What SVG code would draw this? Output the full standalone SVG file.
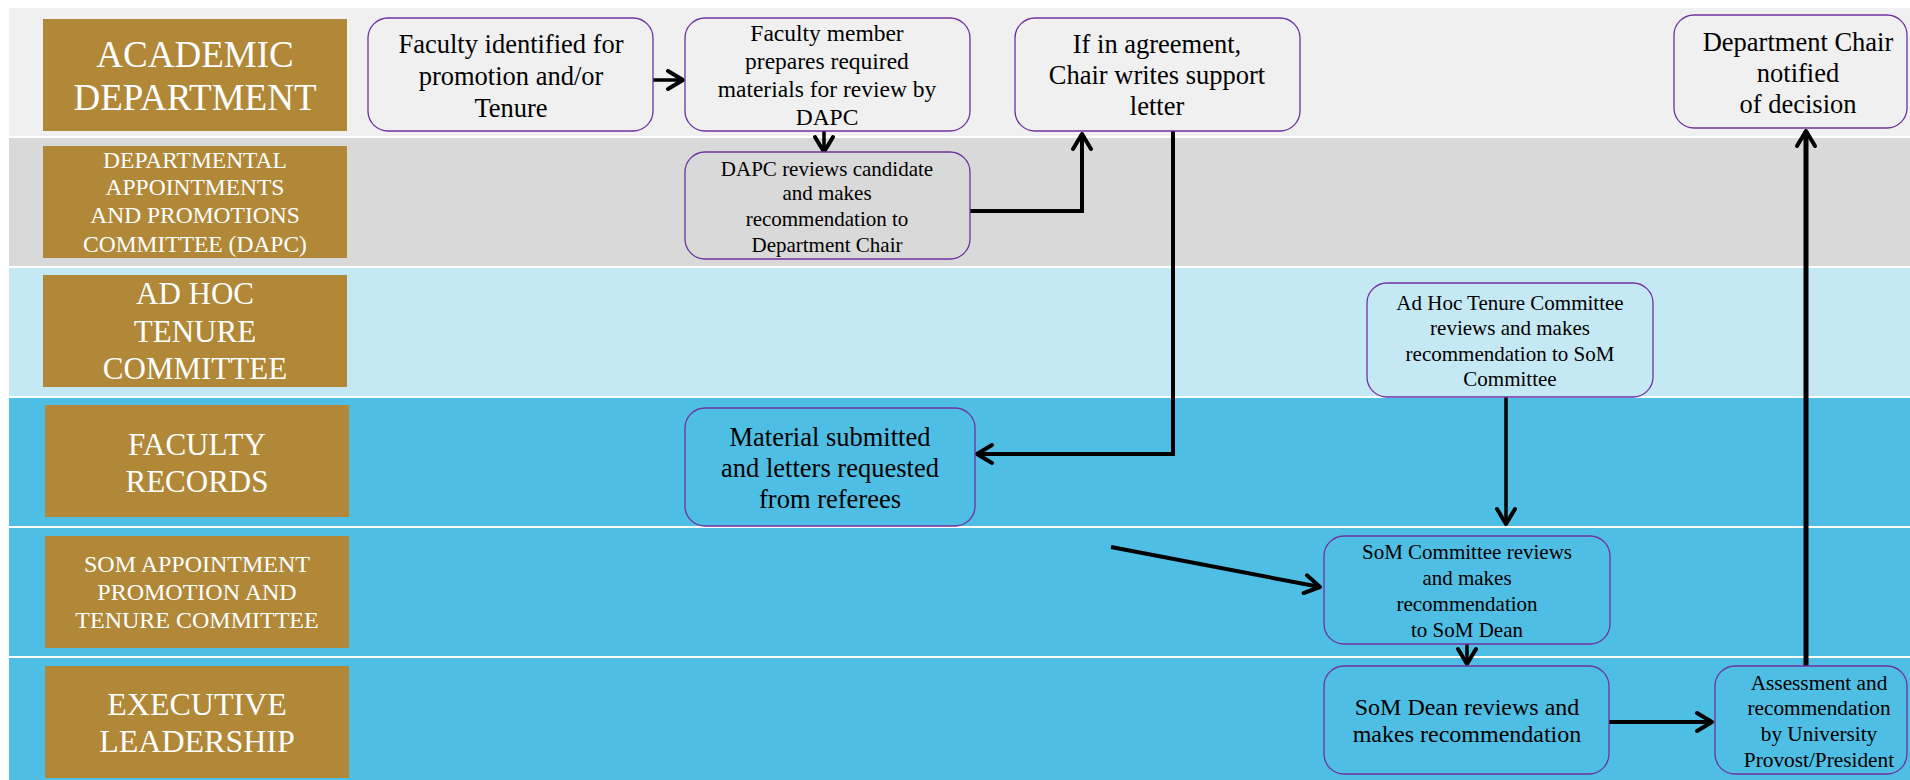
<svg xmlns="http://www.w3.org/2000/svg" width="1910" height="780" viewBox="0 0 1910 780">
<style>
.lbl{fill:#B08838}
.lt{font-family:"Liberation Serif","Times New Roman",serif;fill:#FFFFFF;text-anchor:middle}
.nd{stroke:#7030A0;stroke-width:1.3}
.nt{font-family:"Liberation Serif","Times New Roman",serif;fill:#000000;text-anchor:middle}
.cn{fill:none;stroke:#000000;stroke-linejoin:miter}
</style>
<defs>
<marker id="ah" markerUnits="userSpaceOnUse" viewBox="-20 -13 24 26" refX="0" refY="0" markerWidth="24" markerHeight="26" orient="auto">
<path d="M-15,-9 L0,0 L-15,9" fill="none" stroke="#000" stroke-width="4" stroke-linecap="round" stroke-linejoin="round"/>
</marker>
</defs>
<rect x="0" y="0" width="1910" height="780" fill="#FFFFFF"/>
<g id="lanes">
<rect x="9" y="8" width="1901" height="128" fill="#F0F0F0"/>
<rect x="9" y="138" width="1901" height="128" fill="#D9D9D9"/>
<rect x="9" y="268" width="1901" height="128" fill="#C5E9F4"/>
<rect x="9" y="398" width="1901" height="128" fill="#4EBEE4"/>
<rect x="9" y="528" width="1901" height="128" fill="#4EBEE4"/>
<rect x="9" y="658" width="1901" height="122" fill="#4EBEE4"/>
</g>
<g id="lane-academic">
<rect class="lbl" x="43" y="19" width="304" height="112"/>
<text class="lt" font-size="37"><tspan x="195" y="67">ACADEMIC</tspan><tspan x="195" y="110">DEPARTMENT</tspan></text>
</g>
<g id="lane-dapc">
<rect class="lbl" x="43" y="146" width="304" height="112"/>
<text class="lt" font-size="23.5"><tspan x="195" y="168">DEPARTMENTAL</tspan><tspan x="195" y="195">APPOINTMENTS</tspan><tspan x="195" y="223">AND PROMOTIONS</tspan><tspan x="195" y="252">COMMITTEE (DAPC)</tspan></text>
</g>
<g id="lane-adhoc">
<rect class="lbl" x="43" y="275" width="304" height="112"/>
<text class="lt" font-size="31"><tspan x="195" y="304">AD HOC</tspan><tspan x="195" y="342">TENURE</tspan><tspan x="195" y="379">COMMITTEE</tspan></text>
</g>
<g id="lane-records">
<rect class="lbl" x="45" y="405" width="304" height="112"/>
<text class="lt" font-size="31"><tspan x="197" y="455">FACULTY</tspan><tspan x="197" y="492">RECORDS</tspan></text>
</g>
<g id="lane-som">
<rect class="lbl" x="45" y="536" width="304" height="112"/>
<text class="lt" font-size="24"><tspan x="197" y="572">SOM APPOINTMENT</tspan><tspan x="197" y="600">PROMOTION AND</tspan><tspan x="197" y="628">TENURE COMMITTEE</tspan></text>
</g>
<g id="lane-exec">
<rect class="lbl" x="45" y="666" width="304" height="112"/>
<text class="lt" font-size="32"><tspan x="197" y="715">EXECUTIVE</tspan><tspan x="197" y="752">LEADERSHIP</tspan></text>
</g>
<g id="connectors">
<path class="cn" stroke-width="3.5" d="M653,80 L683,80" marker-end="url(#ah)"/>
<path class="cn" stroke-width="3.5" d="M824,131 L824,152" marker-end="url(#ah)"/>
<path class="cn" stroke-width="4" d="M970,211 L1082,211 L1082,134" marker-end="url(#ah)"/>
<path class="cn" stroke-width="4" d="M1173,131 L1173,454 L977,454" marker-end="url(#ah)"/>
<path class="cn" stroke-width="3.5" d="M1506,397 L1506,524" marker-end="url(#ah)"/>
<path class="cn" stroke-width="4" d="M1111,547 L1320,587" marker-end="url(#ah)"/>
<path class="cn" stroke-width="3.5" d="M1467,644 L1467,664" marker-end="url(#ah)"/>
<path class="cn" stroke-width="4" d="M1609,722 L1712,722" marker-end="url(#ah)"/>
<path class="cn" stroke-width="5" d="M1806,666 L1806,131" marker-end="url(#ah)"/>
</g>
<g id="n1">
<rect class="nd" x="368" y="18" width="285" height="113" rx="20" ry="20" fill="#F0F0F0"/>
<text class="nt" font-size="26.5"><tspan x="511" y="53">Faculty identified for</tspan><tspan x="511" y="85">promotion and/or</tspan><tspan x="511" y="117">Tenure</tspan></text>
</g>
<g id="n2">
<rect class="nd" x="685" y="18" width="285" height="113" rx="20" ry="20" fill="#F0F0F0"/>
<text class="nt" font-size="23.5"><tspan x="827" y="41">Faculty member</tspan><tspan x="827" y="69">prepares required</tspan><tspan x="827" y="97">materials for review by</tspan><tspan x="827" y="125">DAPC</tspan></text>
</g>
<g id="n3">
<rect class="nd" x="1015" y="18" width="285" height="113" rx="20" ry="20" fill="#F0F0F0"/>
<text class="nt" font-size="26.5"><tspan x="1157" y="53">If in agreement,</tspan><tspan x="1157" y="84">Chair writes support</tspan><tspan x="1157" y="115">letter</tspan></text>
</g>
<g id="n4">
<rect class="nd" x="1674" y="15" width="233" height="113" rx="20" ry="20" fill="#F0F0F0"/>
<text class="nt" font-size="26.5"><tspan x="1798" y="51">Department Chair</tspan><tspan x="1798" y="82">notified</tspan><tspan x="1798" y="113">of decision</tspan></text>
</g>
<g id="n5">
<rect class="nd" x="685" y="152" width="285" height="107" rx="20" ry="20" fill="#D9D9D9"/>
<text class="nt" font-size="21"><tspan x="827" y="176">DAPC reviews candidate</tspan><tspan x="827" y="200">and makes</tspan><tspan x="827" y="226">recommendation to</tspan><tspan x="827" y="252">Department Chair</tspan></text>
</g>
<g id="n6">
<rect class="nd" x="1367" y="283" width="286" height="114" rx="20" ry="20" fill="#C5E9F4"/>
<text class="nt" font-size="21"><tspan x="1510" y="310">Ad Hoc Tenure Committee</tspan><tspan x="1510" y="335">reviews and makes</tspan><tspan x="1510" y="361">recommendation to SoM</tspan><tspan x="1510" y="386">Committee</tspan></text>
</g>
<g id="n7">
<rect class="nd" x="685" y="408" width="290" height="118" rx="20" ry="20" fill="#4EBEE4"/>
<text class="nt" font-size="26.5"><tspan x="830" y="446">Material submitted</tspan><tspan x="830" y="477">and letters requested</tspan><tspan x="830" y="508">from referees</tspan></text>
</g>
<g id="n8">
<rect class="nd" x="1324" y="536" width="286" height="108" rx="20" ry="20" fill="#4EBEE4"/>
<text class="nt" font-size="21"><tspan x="1467" y="559">SoM Committee reviews</tspan><tspan x="1467" y="585">and makes</tspan><tspan x="1467" y="611">recommendation</tspan><tspan x="1467" y="637">to SoM Dean</tspan></text>
</g>
<g id="n9">
<rect class="nd" x="1324" y="666" width="285" height="108" rx="20" ry="20" fill="#4EBEE4"/>
<text class="nt" font-size="24"><tspan x="1467" y="715">SoM Dean reviews and</tspan><tspan x="1467" y="742">makes recommendation</tspan></text>
</g>
<g id="n10">
<rect class="nd" x="1715" y="666" width="192" height="108" rx="20" ry="20" fill="#4EBEE4"/>
<text class="nt" font-size="21.3"><tspan x="1819" y="690">Assessment and</tspan><tspan x="1819" y="715">recommendation</tspan><tspan x="1819" y="741">by University</tspan><tspan x="1819" y="767">Provost/President</tspan></text>
</g>
</svg>
